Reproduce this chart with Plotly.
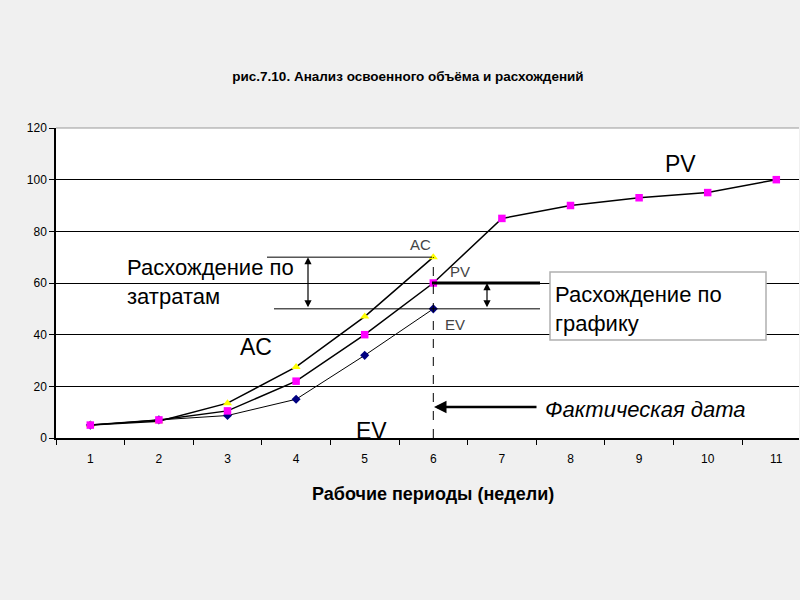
import plotly.graph_objects as go

weeks = ["1", "2", "3", "4", "5", "6", "7", "8", "9", "10", "11"]
pv = [5, 7, 10.5, 22, 40, 60, 85, 90, 93, 95, 100]
ac_weeks = ["1", "2", "3", "4", "5", "6"]
ac = [5, 6.5, 13.5, 27.5, 47, 70]
ev_weeks = ["1", "2", "3", "4", "5", "6"]
ev = [5, 7, 8.7, 15, 32, 50]

title = "рис.7.10. Анализ освоенного объёма и расхождений"
xtitle = "Рабочие периоды (недели)"

FONT = "Liberation Sans, Arial, sans-serif"

L, R, T, B = 56, 799, 128, 438


def px(x):
    return (x - L) / (R - L)


def py(y):
    return (B - y) / (B - T)


fig = go.Figure()
fig.add_trace(go.Scatter(x=ev_weeks, y=ev, mode="lines+markers",
                         line=dict(color="black", width=1),
                         marker=dict(symbol="diamond", color="#000080", size=7),
                         name="EV"))
fig.add_trace(go.Scatter(x=ac_weeks, y=ac, mode="lines+markers",
                         line=dict(color="black", width=1.5),
                         marker=dict(symbol="triangle-up", color="#ffff00", size=8),
                         name="AC"))
fig.add_trace(go.Scatter(x=weeks, y=pv, mode="lines+markers",
                         line=dict(color="black", width=1.5),
                         marker=dict(symbol="square", color="#ff00ff", size=7.5),
                         name="PV"))

shapes = []
shapes.append(dict(type="line", xref="paper", yref="paper", x0=0, x1=1, y0=1, y1=1,
                   line=dict(color="#999999", width=1)))
shapes.append(dict(type="line", xref="paper", yref="y", x0=px(267), x1=px(432), y0=70, y1=70,
                   line=dict(color="black", width=1)))
shapes.append(dict(type="line", xref="paper", yref="y", x0=px(274), x1=px(540), y0=50, y1=50,
                   line=dict(color="black", width=1)))
shapes.append(dict(type="line", xref="paper", yref="y", x0=px(432), x1=px(540), y0=60, y1=60,
                   line=dict(color="black", width=3)))
shapes.append(dict(type="line", xref="x", yref="y", x0=5, x1=5, y0=0, y1=70,
                   line=dict(color="black", width=1, dash="dash")))
shapes.append(dict(type="rect", xref="paper", yref="paper", x0=px(550), x1=px(766), y0=py(340), y1=py(272),
                   line=dict(color="#b0b0b0", width=1.5), fillcolor="white", layer="above"))

annotations = []
for xp, y0, y1 in [(308, 70, 50), (487, 60, 50)]:
    annotations.append(dict(xref="paper", yref="y", x=px(xp), y=y0, axref="pixel", ayref="y",
                            ax=0, ay=y1, showarrow=True, arrowhead=2, arrowsize=1.2, arrowwidth=1.2,
                            arrowside="end+start", text="", arrowcolor="black"))
annotations.append(dict(xref="paper", yref="paper", x=px(434), y=py(407), ax=104, ay=0,
                        showarrow=True, arrowhead=2, arrowsize=1, arrowwidth=2.5, text="",
                        arrowcolor="black"))


def txt(s, x, y, size, color="black", italic=False, xanchor="left"):
    if italic:
        s = "<i>" + s + "</i>"
    annotations.append(dict(xref="paper", yref="paper", x=px(x), y=py(y), text=s, showarrow=False,
                            xanchor=xanchor, yanchor="middle", align="left",
                            font=dict(family=FONT, size=size, color=color)))


txt("Расхождение по<br>затратам", 125, 282, 22)
txt("Расхождение по<br>графику", 553, 309, 22)
txt("Фактическая дата", 543, 409, 22, italic=True)
txt("PV", 663, 164, 23)
txt("AC", 238, 347, 23)
txt("EV", 354, 431, 23)
txt("AC", 408, 244, 15, color="#444444")
txt("PV", 448, 271, 15, color="#444444")
txt("EV", 443, 324, 15, color="#444444")
txt("<b>" + xtitle + "</b>", 433, 494, 18, xanchor="center")

fig.update_layout(
    width=800, height=600,
    margin=dict(l=L, r=800 - R, t=T, b=600 - B),
    paper_bgcolor="#f0f0f0", plot_bgcolor="white",
    showlegend=False,
    title=dict(text="<b>" + title + "</b>", x=408 / 800, xanchor="center", y=1 - 76 / 600,
               yanchor="middle", font=dict(family=FONT, size=13.5, color="black")),
    shapes=shapes, annotations=annotations,
    xaxis=dict(type="category", range=[-0.5, -0.5 + (R - L) / 68.6], tickson="boundaries",
               ticks="outside", ticklen=5, tickcolor="black", showgrid=False,
               showline=True, linecolor="black", linewidth=1.5, ticklabelstandoff=9,
               tickfont=dict(family=FONT, size=12, color="black")),
    yaxis=dict(range=[0, 120], dtick=20, ticks="outside", ticklen=5, tickcolor="black",
               showgrid=True, gridcolor="black", gridwidth=1, zeroline=False,
               showline=True, linecolor="black", linewidth=1.5,
               tickfont=dict(family=FONT, size=12, color="black")),
)

fig.write_html("out.html", config={"displayModeBar": False},
               post_script="document.body.style.margin='0';document.body.style.background='#f0f0f0';")
